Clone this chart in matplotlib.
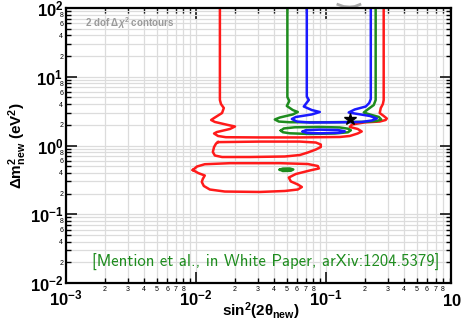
import numpy as np
import matplotlib
matplotlib.use("Agg")
import matplotlib.pyplot as plt
from matplotlib.ticker import LogLocator, FuncFormatter

# allowed-region contours in the (sin^2 2theta, dm^2) plane
red_main_sin2 = [0.0153, 0.0153, 0.0156, 0.0164, 0.0159, 0.0138, 0.0131, 0.0140, 0.0176, 0.0200,
                 0.0183, 0.0145, 0.0138, 0.0148, 0.0170, 0.0311, 0.0631, 0.128, 0.153, 0.176,
                 0.189, 0.176, 0.153, 0.159, 0.200, 0.260, 0.289, 0.295, 0.279, 0.260,
                 0.265, 0.275, 0.279, 0.279]
red_main_dm2 = [150, 4.59, 4.01, 3.51, 2.97, 2.51, 2.35, 2.20, 1.99, 1.89,
                1.74, 1.57, 1.495, 1.375, 1.32, 1.31, 1.31, 1.33, 1.375, 1.495,
                1.60, 1.74, 1.86, 2.02, 2.17, 2.23, 2.35, 2.47, 2.69, 2.97,
                3.51, 4.01, 4.59, 150]

red_isl1_sin2 = [0.0148, 0.0311, 0.0631, 0.0838, 0.0915, 0.0915, 0.0838, 0.0727, 0.0631, 0.0484,
                 0.0260, 0.0159, 0.0140, 0.0135, 0.0138, 0.0143, 0.0148]
red_isl1_dm2 = [1.12, 1.14, 1.14, 1.105, 1.034, 0.951, 0.874, 0.791, 0.727, 0.692,
                0.680, 0.680, 0.715, 0.804, 0.951, 1.069, 1.12]

red_isl2_sin2 = [0.00948, 0.0104, 0.0117, 0.0113, 0.0111, 0.0115, 0.0128, 0.0167, 0.0311, 0.0484,
                 0.0609, 0.0654, 0.0609, 0.0538, 0.0519, 0.0588, 0.0753, 0.0884, 0.0868, 0.0727,
                 0.0443, 0.0183, 0.0117, 0.0102, 0.00948]
red_isl2_dm2 = [0.440, 0.398, 0.366, 0.326, 0.295, 0.258, 0.229, 0.214, 0.211, 0.218,
                0.229, 0.249, 0.271, 0.300, 0.342, 0.385, 0.433, 0.463, 0.503, 0.538,
                0.553, 0.553, 0.534, 0.495, 0.440]

green_main_sin2 = [0.0506, 0.0506, 0.0524, 0.0501, 0.0557, 0.0609, 0.0557, 0.0443, 0.0405, 0.0435,
                   0.0528, 0.107, 0.200, 0.247, 0.267, 0.256, 0.218, 0.196, 0.210, 0.234,
                   0.242, 0.242]
green_main_dm2 = [150, 5.07, 4.44, 3.76, 3.28, 3.07, 2.83, 2.555, 2.39, 2.23,
                  2.18, 2.18, 2.21, 2.27, 2.39, 2.60, 2.83, 3.02, 3.34, 3.88,
                  4.59, 150]

green_isl_sin2 = [0.0451, 0.0475, 0.0577, 0.0899, 0.128, 0.148, 0.156, 0.148, 0.117, 0.0753,
                  0.0528, 0.0467, 0.0451]
green_isl_dm2 = [1.65, 1.77, 1.84, 1.86, 1.83, 1.757, 1.665, 1.556, 1.495, 1.47,
                 1.505, 1.56, 1.65]

green_small_sin2 = [0.0443, 0.0467, 0.0528, 0.0562, 0.0538, 0.0467, 0.0443]
green_small_dm2 = [0.445, 0.461, 0.463, 0.448, 0.429, 0.426, 0.445]

blue_main_sin2 = [0.0714, 0.0714, 0.0740, 0.0677, 0.0780, 0.0899, 0.0780, 0.0588, 0.0548, 0.0598,
                  0.0753, 0.128, 0.189, 0.226, 0.247, 0.218, 0.167, 0.150, 0.167, 0.203,
                  0.216, 0.222, 0.222]
blue_main_dm2 = [150, 5.16, 4.59, 3.69, 3.28, 3.07, 2.83, 2.60, 2.43, 2.23,
                 2.16, 2.175, 2.20, 2.31, 2.47, 2.69, 2.92, 3.02, 3.34, 3.69,
                 4.15, 4.75, 150]

blue_isl_sin2 = [0.0666, 0.0702, 0.0899, 0.124, 0.140, 0.128, 0.0899, 0.0714, 0.0666]
blue_isl_dm2 = [1.598, 1.67, 1.70, 1.68, 1.61, 1.53, 1.505, 1.52, 1.598]

best_fit_sin2 = 0.153
best_fit_dm2 = 2.39

top_arc_sin2 = [0.124, 0.137, 0.153, 0.167, 0.183]
top_arc_dm2 = [112.4, 105.2, 103.4, 105.2, 112.4]

x_min, x_max = 1e-3, 0.92
y_min, y_max = 1e-2, 1e2

RED = "#ff1a1a"
GREEN = "#1e8c1e"
BLUE = "#1a1aff"

plt.rcParams["font.family"] = ["Liberation Sans", "DejaVu Sans"]
plt.rcParams["mathtext.fontset"] = "custom"
plt.rcParams["mathtext.rm"] = "Liberation Sans:bold"
plt.rcParams["mathtext.bf"] = "Liberation Sans:bold"
plt.rcParams["mathtext.it"] = "Liberation Sans:bold:italic"
plt.rcParams["mathtext.default"] = "bf"

fig = plt.figure(figsize=(4.61, 3.24), dpi=100)
ax = fig.add_axes([66 / 461, 41 / 324, 385 / 461, 275 / 324])
ax.set_xscale("log")
ax.set_yscale("log")
ax.set_xlim(x_min, x_max)
ax.set_ylim(y_min, y_max)

lw = 1.8
ax.plot(red_main_sin2, red_main_dm2, color=RED, lw=lw)
ax.plot(red_isl1_sin2, red_isl1_dm2, color=RED, lw=lw)
ax.plot(red_isl2_sin2, red_isl2_dm2, color=RED, lw=lw)
ax.plot(green_main_sin2, green_main_dm2, color=GREEN, lw=lw)
ax.plot(green_isl_sin2, green_isl_dm2, color=GREEN, lw=lw)
ax.plot(green_small_sin2, green_small_dm2, color=GREEN, lw=lw)
ax.plot(blue_main_sin2, blue_main_dm2, color=BLUE, lw=lw)
ax.plot(blue_isl_sin2, blue_isl_dm2, color=BLUE, lw=lw)
ax.plot(best_fit_sin2, best_fit_dm2, marker="*", color="black", markersize=9, ls="none")
ax.plot(top_arc_sin2, top_arc_dm2, color="#aaaaaa", lw=2, clip_on=False)

# log axes, ROOT-like ticks
for axis in (ax.xaxis, ax.yaxis):
    axis.set_major_locator(LogLocator(base=10, numticks=20))
    axis.set_minor_locator(LogLocator(base=10, subs=np.arange(2, 10), numticks=20))


def major_label(v, pos):
    return r"$10^{%d}$" % int(round(np.log10(v)))


def minor_label(keep):
    def fmt(v, pos):
        d = int(round(v / 10 ** np.floor(np.log10(v) + 1e-9)))
        return str(d) if d in keep else ""
    return fmt


ax.xaxis.set_major_formatter(FuncFormatter(major_label))
ax.yaxis.set_major_formatter(FuncFormatter(major_label))
ax.xaxis.set_minor_formatter(FuncFormatter(minor_label({2, 3, 4, 5, 6, 7, 8})))
ax.yaxis.set_minor_formatter(FuncFormatter(minor_label({2, 4, 6, 8})))

ax.tick_params(which="both", direction="in", top=True, right=True)
ax.tick_params(which="major", length=8, width=1.1, labelsize=12)
ax.tick_params(which="minor", length=3.8, width=1.0, labelsize=5)
ax.tick_params(axis="x", which="major", pad=4)
ax.tick_params(axis="x", which="minor", pad=2)
ax.tick_params(axis="y", which="major", pad=2)
ax.tick_params(axis="y", which="minor", pad=2)

ax.grid(which="both", color="#dcdcdc", lw=0.9)
ax.set_axisbelow(True)
for sp in ax.spines.values():
    sp.set_linewidth(1.6)

# 10^0 sits just past the right edge of the frame
ax.text(1.0, -0.024, r"$10^{0}$", transform=ax.get_xaxis_transform(),
        ha="center", va="top", fontsize=12, clip_on=False)

ax.set_xlabel(r"sin$^{2}$(2$\theta_{new}$)", fontsize=11, fontweight="bold")
ax.xaxis.set_label_coords(0.506, -0.062)
ax.set_ylabel(r"$\Delta m^{2}_{new}$ (eV$^{2}$)", fontsize=11, fontweight="bold")
ax.yaxis.set_label_coords(-0.096, 0.5)

ax.text(0.049, 0.9465, r"2 dof $\Delta\mathit{\chi}^{2}$ contours", transform=ax.transAxes,
        color="#9a9a9a", fontsize=7, fontweight="bold", va="center", ha="left")
ax.text(0.067, 0.074, "[Mention et al., in White Paper, arXiv:1204.5379]", transform=ax.transAxes,
        family="cmss10", fontsize=12, color=GREEN, va="center", ha="left")

fig.savefig("out.png", dpi=100)
